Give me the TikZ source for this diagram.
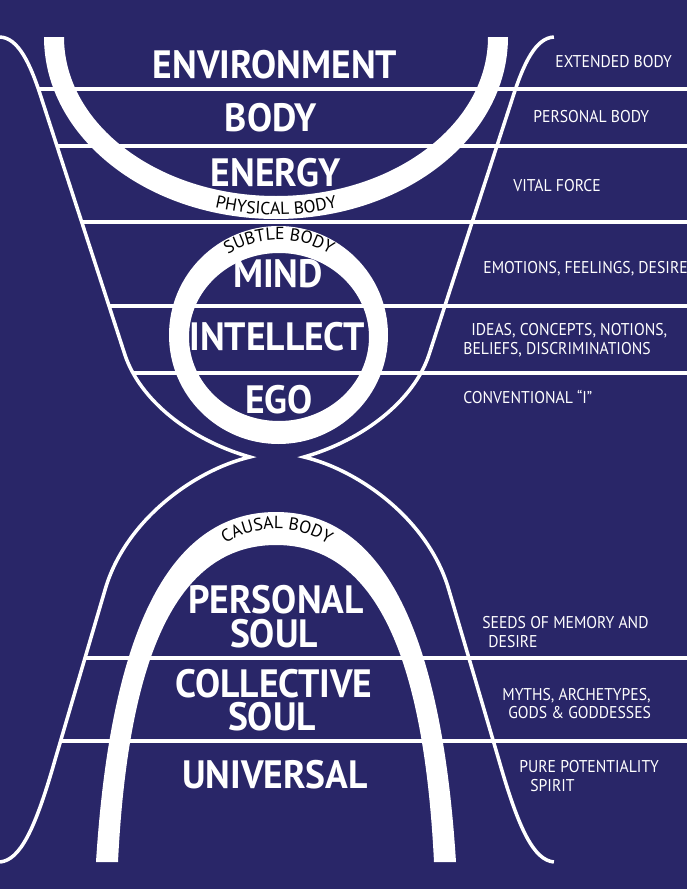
\documentclass[tikz,border=0pt]{standalone}
\usepackage{fontspec}
\usetikzlibrary{decorations.text}

\newfontfamily\bigfont[FakeStretch=0.95]{PT Sans}
\newfontfamily\sidefont[FakeStretch=0.92]{PT Sans}
\newfontfamily\arcfont{PT Sans}
\newcommand\arctextfont{\arcfont\fontsize{10}{11}\selectfont}
\definecolor{nightblue}{RGB}{41,38,104}

\tikzset{
	rim/.style={draw=white,line width=2pt},
	layer/.style={draw=white,line width=2.8pt},
	band/.style={fill=white},
	biglabel/.style={text=white,inner sep=0pt,anchor=base,font=\bigfont\bfseries\fontsize{22.5}{24}\selectfont},
	sidelabel/.style={text=white,inner sep=0pt,anchor=base west,font=\sidefont\fontsize{9.7}{11}\selectfont},
	bodyname/.style={decorate,decoration={text along path,text align=center,text={|\arctextfont|#1}}}
}

\begin{document}
\begin{tikzpicture}[x=0.02cm,y=-0.02cm]
	\fill[nightblue] (0,0) rectangle (687,889);
	\useasboundingbox (0,0) rectangle (687,889);
	
	\foreach \y/\x in {89/38,146/57,222/82,306/109,373/134,658/85,741/61}
		\draw[layer] (\x,\y) -- (687,\y);
	
	\foreach \s in {1,-1}{
		\begin{scope}[xshift={(1-\s)*5.54cm},xscale=\s]
			\draw[rim] (0,37) .. controls (18,38) and (30,62) .. (42,100) -- (125,355)
				.. controls (140,400) and (190,440) .. (250,457)
				.. controls (195,470) and (125,520) .. (105,590) -- (55,760)
				.. controls (35,830) and (20,860) .. (0,862);
		\end{scope}
	}
	
	\fill[band] (44,37) arc[start angle=180,end angle=0,x radius=232,y radius=182]
		-- (488,37) arc[start angle=0,end angle=180,x radius=212,y radius=159] -- cycle;
	\fill[band,even odd rule] (278.5,335) ellipse[x radius=109.5,y radius=109]
		(279,337) ellipse[x radius=90,y radius=84];
	\fill[band] (96,862) .. controls (110,640) and (165,512) .. (276,512)
		.. controls (387,512) and (442,640) .. (456,862) -- (434,862)
		.. controls (424,660) and (377,545) .. (276,545)
		.. controls (175,545) and (128,660) .. (118,862) -- cycle;
	
	\path[bodyname={PHYSICAL BODY}] (148.7,182.5) arc[start angle=125,end angle=55,x radius=222,y radius=178];
	\path[bodyname={SUBTLE BODY}] (210.4,268.4) arc[start angle=225,end angle=315,radius=97];
	\path[bodyname={CAUSAL BODY}] (209.8,556.8) arc[start angle=225,end angle=315,radius=95];
	
	\begin{scope}[every node/.style={biglabel}]
		\node (environment) at (275,78) {ENVIRONMENT};
		\node (body) at (271,131) {BODY};
		\node (energy) at (276,186) {ENERGY};
		\node (mind) at (278,287) {MIND};
		\node (intellect) at (277,350) {INTELLECT};
		\node (ego) at (279,413) {EGO};
		\node (personal) at (276,613) {PERSONAL};
		\node (psoul) at (274,647) {SOUL};
		\node (collective) at (274,697) {COLLECTIVE};
		\node (csoul) at (272,730) {SOUL};
		\node (universal) at (275,788) {UNIVERSAL};
	\end{scope}
	
	\begin{scope}[every node/.style={sidelabel}]
		\node (extended) at (555,67) {EXTENDED BODY};
		\node (personalbody) at (533,122) {PERSONAL BODY};
		\node (vital) at (513,191) {VITAL FORCE};
		\node (emotions) at (483,273) {EMOTIONS, FEELINGS, DESIRE};
		\node (ideas) at (471,335) {IDEAS, CONCEPTS, NOTIONS,};
		\node (beliefs) at (463,354) {BELIEFS, DISCRIMINATIONS};
		\node (conventional) at (463,403) {CONVENTIONAL “I”};
		\node (seeds) at (482,628) {SEEDS OF MEMORY AND};
		\node (desire) at (488,647) {DESIRE};
		\node (myths) at (502,700) {MYTHS, ARCHETYPES,};
		\node (gods) at (508,718) {GODS \& GODDESSES};
		\node (pure) at (519,772) {PURE POTENTIALITY};
		\node (spirit) at (530,791) {SPIRIT};
	\end{scope}
\end{tikzpicture}
\end{document}
